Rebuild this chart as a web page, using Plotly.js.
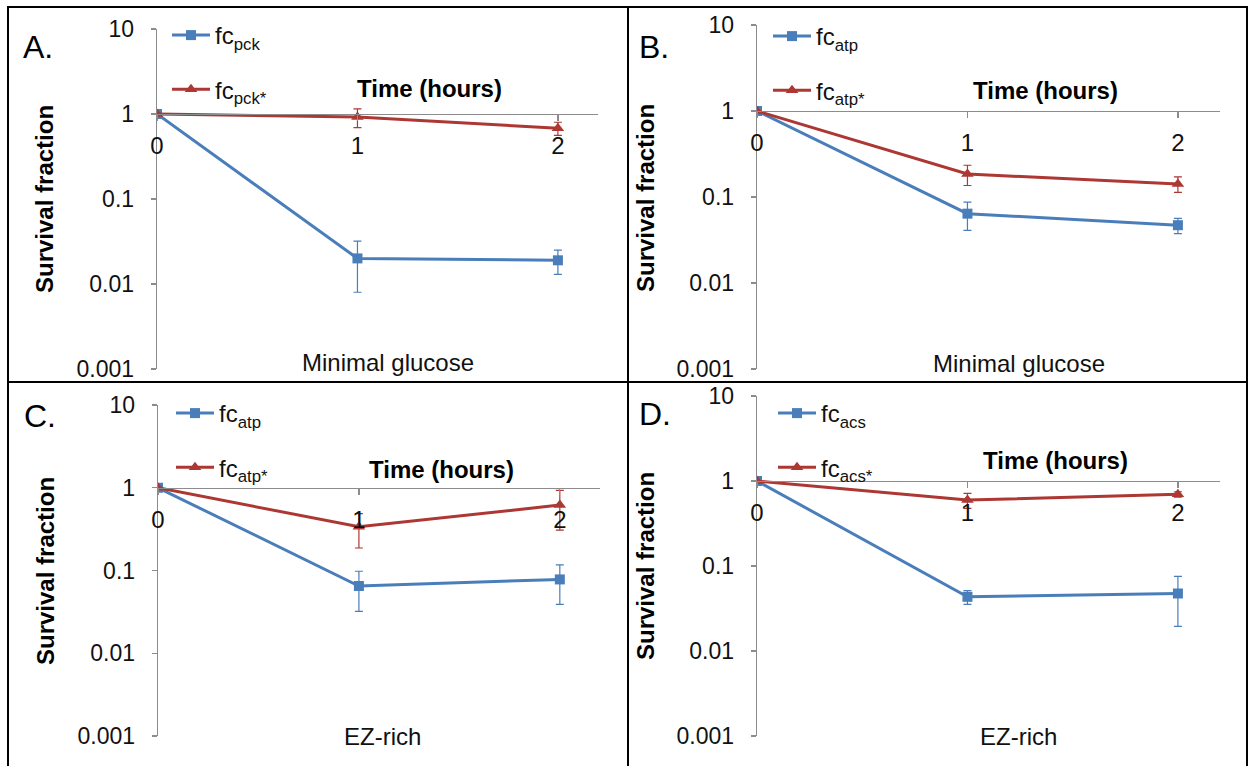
<!DOCTYPE html>
<html>
<head>
<meta charset="utf-8">
<script src="https://cdn.plot.ly/plotly-3.0.1.min.js"></script>
<style>html,body{margin:0;padding:0;background:#fff;}#chart{width:1253px;height:766px;}</style>
</head>
<body>
<div id="chart"></div>
<script>
// ---- data ----
const hours = [0, 1, 2];
const xTickLabels = ['0', '1', '2'];
const yTickVals = [0.001, 0.01, 0.1, 1, 10];
const yTickLabels = ['0.001', '0.01', '0.1', '1', '10'];

const panelLetters = ['A.', 'B.', 'C.', 'D.'];
const mediumLabels = ['Minimal glucose', 'Minimal glucose', 'EZ-rich', 'EZ-rich'];
const blueNames = ['fc<sub>pck</sub>', 'fc<sub>atp</sub>', 'fc<sub>atp</sub>', 'fc<sub>acs</sub>'];
const redNames = ['fc<sub>pck*</sub>', 'fc<sub>atp*</sub>', 'fc<sub>atp*</sub>', 'fc<sub>acs*</sub>'];

const blueA = [1, 0.020, 0.019];   const blueAErr = [0, 0.012, 0.006];
const redA  = [1, 0.92, 0.68];     const redAErr  = [0, 0.23, 0.12];
const blueB = [1, 0.064, 0.047];   const blueBErr = [0, 0.023, 0.0095];
const redB  = [1, 0.185, 0.142];   const redBErr  = [0, 0.049, 0.029];
const blueC = [1, 0.065, 0.078];   const blueCErr = [0, 0.033, 0.039];
const redC  = [1, 0.337, 0.617];   const redCErr  = [0, 0.15, 0.31];
const blueD = [1, 0.0434, 0.0475]; const blueDErr = [0, 0.008, 0.028];
const redD  = [1, 0.597, 0.697];   const redDErr  = [0, 0.12, 0.05];

const blueSeries = [blueA, blueB, blueC, blueD];
const blueErrors = [blueAErr, blueBErr, blueCErr, blueDErr];
const redSeries = [redA, redB, redC, redD];
const redErrors = [redAErr, redBErr, redCErr, redDErr];

// ---- layout geometry (pixels) ----
const W = 1253, H = 766;
const FONT = 'Liberation Sans, Arial, Helvetica, sans-serif';
const BLUE = '#4A7EBB', RED = '#AC3733', AXIS = '#8C8C8C';
const panels = [
  {x0: 157, x1: 598, yTop: 29, yBot: 369, letter: [38, 47], surv: [44, 199], time: [429, 89], med: [388, 362], leg: [171, 34]},
  {x0: 757, x1: 1220, yTop: 25, yBot: 369, letter: [654, 47], surv: [645, 198], time: [1045, 90], med: [1019, 363], leg: [772, 35]},
  {x0: 158, x1: 600, yTop: 405, yBot: 736, letter: [40, 416], surv: [45, 571], time: [441, 470], med: [382, 736], leg: [175, 412]},
  {x0: 757, x1: 1220, yTop: 396, yBot: 736, letter: [655, 414], surv: [645, 566], time: [1055, 461], med: [1018, 736], leg: [777, 412]}
];
const px = v => v / W;
const py = v => 1 - v / H;

const traces = [];
const layout = {
  width: W, height: H,
  margin: {l: 0, r: 0, t: 0, b: 0},
  paper_bgcolor: '#fff', plot_bgcolor: 'rgba(0,0,0,0)',
  font: {family: FONT, color: '#111'},
  showlegend: true,
  annotations: [],
  shapes: [
    {type: 'rect', xref: 'paper', yref: 'paper', x0: px(8), x1: px(1247), y0: -0.02, y1: py(7), line: {color: '#000', width: 2}},
    {type: 'line', xref: 'paper', yref: 'paper', x0: px(628), x1: px(628), y0: -0.02, y1: py(7), line: {color: '#000', width: 2}},
    {type: 'line', xref: 'paper', yref: 'paper', x0: px(8), x1: px(1247), y0: py(382), y1: py(382), line: {color: '#000', width: 2}}
  ]
};

panels.forEach((p, i) => {
  const n = i === 0 ? '' : String(i + 1);
  const xa = 'xaxis' + n, ya = 'yaxis' + n;
  const xr = 'x' + n, yr = 'y' + n;
  const legName = 'legend' + n;
  const yDom = [py(p.yBot), py(p.yTop)];
  const logMin = Math.log10(yTickVals[0]), logMax = Math.log10(yTickVals[yTickVals.length - 1]);
  // the time axis crosses the survival axis at a survival fraction of 1
  const crossFrac = (0 - logMin) / (logMax - logMin);

  layout[xa] = {
    domain: [px(p.x0), px(p.x1)],
    range: [0, 2.2],
    anchor: 'free',
    position: yDom[0] + crossFrac * (yDom[1] - yDom[0]),
    showline: true, linecolor: AXIS, linewidth: 1.3,
    ticks: 'outside', ticklen: 6, tickcolor: AXIS, tickwidth: 1.3,
    tickvals: hours, ticktext: xTickLabels,
    tickfont: {size: 24, color: '#111', family: FONT},
    ticklabelstandoff: 4,
    showgrid: false, zeroline: false, fixedrange: true
  };
  layout[ya] = {
    domain: yDom,
    type: 'log',
    range: [logMin, logMax],
    anchor: xr,
    showline: true, linecolor: AXIS, linewidth: 1.3,
    ticks: 'outside', ticklen: 5, tickcolor: AXIS, tickwidth: 1.3,
    tickvals: yTickVals, ticktext: yTickLabels,
    tickfont: {size: 23, color: '#111', family: FONT},
    ticklabelstandoff: 12,
    showgrid: false, zeroline: false, fixedrange: true
  };
  layout[legName] = {
    x: px(p.leg[0] - 4), xanchor: 'left',
    y: py(p.leg[1] - 21), yanchor: 'top',
    bgcolor: 'rgba(0,0,0,0)', borderwidth: 0,
    font: {size: 24, family: FONT, color: '#111'},
    tracegroupgap: 20,
    itemwidth: 38
  };

  traces.push({
    x: hours, y: blueSeries[i], xaxis: xr, yaxis: yr,
    name: blueNames[i], legend: legName, legendgroup: 'b' + i,
    mode: 'lines+markers', type: 'scatter',
    line: {color: BLUE, width: 3},
    marker: {symbol: 'square', size: 10, color: BLUE},
    error_y: {type: 'data', array: blueErrors[i], visible: true, color: BLUE, thickness: 1.2, width: 4}
  });
  traces.push({
    x: hours, y: redSeries[i], xaxis: xr, yaxis: yr,
    name: redNames[i], legend: legName, legendgroup: 'r' + i,
    mode: 'lines+markers', type: 'scatter',
    line: {color: RED, width: 3},
    marker: {symbol: 'triangle-up', size: 11, color: RED},
    error_y: {type: 'data', array: redErrors[i], visible: true, color: RED, thickness: 1.2, width: 4}
  });

  layout.annotations.push(
    {xref: 'paper', yref: 'paper', x: px(p.letter[0]), y: py(p.letter[1]), text: panelLetters[i], showarrow: false,
     xanchor: 'center', yanchor: 'middle', font: {size: 32, family: FONT, color: '#000'}},
    {xref: 'paper', yref: 'paper', x: px(p.surv[0]), y: py(p.surv[1]), text: '<b>Survival fraction</b>', showarrow: false,
     textangle: -90, xanchor: 'center', yanchor: 'middle', font: {size: 24, family: FONT, color: '#000'}},
    {xref: 'paper', yref: 'paper', x: px(p.time[0]), y: py(p.time[1]), text: '<b>Time (hours)</b>', showarrow: false,
     xanchor: 'center', yanchor: 'middle', font: {size: 24, family: FONT, color: '#000'}},
    {xref: 'paper', yref: 'paper', x: px(p.med[0]), y: py(p.med[1]), text: mediumLabels[i], showarrow: false,
     xanchor: 'center', yanchor: 'middle', font: {size: 24, family: FONT, color: '#111'}}
  );
});

Plotly.newPlot('chart', traces, layout, {staticPlot: true, displayModeBar: false});
</script>
</body>
</html>
